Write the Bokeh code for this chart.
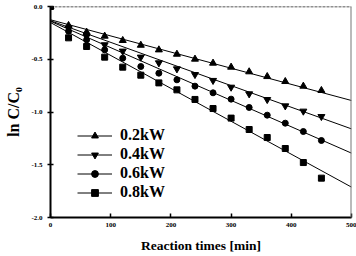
from bokeh.plotting import figure
from bokeh.models import (Range1d, FixedTicker, PrintfTickFormatter, Legend, LegendItem, Span)
from bokeh.embed import file_html
from bokeh.resources import INLINE

# ---- data ----
times = [0, 30, 60, 90, 120, 150, 180, 210, 240, 270, 300, 330, 360, 390, 420, 450]
p02 = [0.0, -0.180, -0.243, -0.281, -0.322, -0.367, -0.411, -0.452, -0.499, -0.537,
       -0.575, -0.619, -0.664, -0.711, -0.755, -0.796]
p04 = [0.0, -0.205, -0.284, -0.363, -0.423, -0.480, -0.534, -0.591, -0.645, -0.701,
       -0.765, -0.828, -0.882, -0.942, -0.992, -1.043]
p06 = [0.0, -0.234, -0.316, -0.411, -0.490, -0.569, -0.632, -0.695, -0.755, -0.818,
       -0.878, -0.957, -1.030, -1.106, -1.185, -1.270]
p08 = [0.0, -0.297, -0.379, -0.480, -0.575, -0.651, -0.724, -0.790, -0.881, -0.967,
       -1.058, -1.166, -1.242, -1.346, -1.479, -1.627]
series_labels = ["0.2kW", "0.4kW", "0.6kW", "0.8kW"]
fit_start = [-0.126, -0.135, -0.140, -0.152]   # fitted line value at t = 0
fit_end = [-0.891, -1.160, -1.390, -1.712]     # fitted line value at t = 500
fit_t = [0, 500]
x_ticks = [0, 100, 200, 300, 400, 500]
y_ticks = [0.0, -0.5, -1.0, -1.5, -2.0]

series = [p02, p04, p06, p08]
markers = ["triangle", "inverted_triangle", "circle", "square"]
msizes = [7, 7, 6, 6]

SERIF = "Liberation Serif"

p = figure(width=356, height=256, output_backend="svg", toolbar_location=None,
           x_range=Range1d(0, 500), y_range=Range1d(-2.0, 0.0),
           min_border_left=50, min_border_right=5, min_border_top=6, min_border_bottom=39)
p.outline_line_color = None
p.grid.visible = False
p.background_fill_color = "white"

# axes
for ax in (p.xaxis[0], p.yaxis[0]):
    ax.axis_line_width = 2
    ax.axis_line_color = "black"
    ax.major_tick_line_color = "black"
    ax.major_tick_line_width = 1.5
    ax.minor_tick_line_color = None
    ax.major_label_text_font = SERIF
    ax.major_label_text_font_style = "bold"
    ax.major_label_text_font_size = "7px"
    ax.major_label_text_color = "black"
    ax.axis_label_text_font = SERIF
    ax.axis_label_text_font_style = "bold"
    ax.axis_label_text_color = "black"

p.xaxis[0].ticker = FixedTicker(ticks=x_ticks)
p.xaxis[0].major_tick_in = 4
p.xaxis[0].major_tick_out = 0
p.xaxis[0].major_label_standoff = 5
p.xaxis[0].axis_label = "Reaction times [min]"
p.xaxis[0].axis_label_text_font_size = "13.5px"
p.xaxis[0].axis_label_standoff = 8

p.yaxis[0].ticker = FixedTicker(ticks=y_ticks)
p.yaxis[0].formatter = PrintfTickFormatter(format="%.1f")
p.yaxis[0].major_tick_in = 3
p.yaxis[0].major_tick_out = 3
p.yaxis[0].major_label_standoff = 5
p.yaxis[0].axis_label = "ln C/C₀"
p.yaxis[0].axis_label_text_font_size = "16px"
p.yaxis[0].axis_label_standoff = 6

# top and right borders
p.add_layout(Span(location=0.0, dimension="width", line_color="#222222",
                  line_width=1.5, line_dash="3 1"))
p.add_layout(Span(location=500, dimension="height", line_color="#777777", line_width=2))

items = []
for ys, lab, mk, ms, a, b in zip(series, series_labels, markers, msizes, fit_start, fit_end):
    lr = p.line(fit_t, [a, b], line_color="black", line_width=1)
    sr = p.scatter(times, ys, marker=mk, size=ms, fill_color="black", line_color="black")
    items.append(LegendItem(label=lab, renderers=[lr, sr]))

legend = Legend(items=items, location=(27, 16), orientation="vertical",
                glyph_width=35, glyph_height=17, label_height=17, spacing=1,
                label_standoff=8, padding=0, margin=0,
                border_line_color=None, background_fill_alpha=0,
                label_text_font=SERIF, label_text_font_style="bold",
                label_text_font_size="16px", label_text_color="black")
p.add_layout(legend, "center")

open("out.html", "w").write(file_html(p, INLINE))
